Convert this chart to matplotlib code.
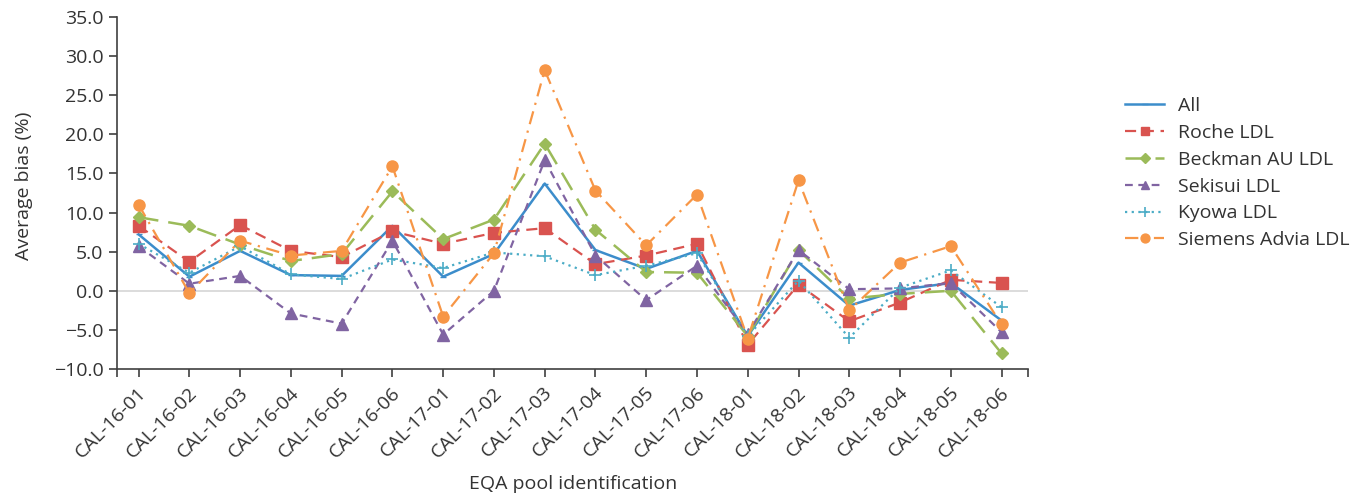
import matplotlib
matplotlib.use("Agg")
import matplotlib.pyplot as plt
from matplotlib.transforms import ScaledTranslation

plt.rcParams['font.family'] = ['Open Sans', 'DejaVu Sans']

categories = ["CAL-16-01", "CAL-16-02", "CAL-16-03", "CAL-16-04", "CAL-16-05", "CAL-16-06",
              "CAL-17-01", "CAL-17-02", "CAL-17-03", "CAL-17-04", "CAL-17-05", "CAL-17-06",
              "CAL-18-01", "CAL-18-02", "CAL-18-03", "CAL-18-04", "CAL-18-05", "CAL-18-06"]

all_vals = [7.2, 1.8, 5.1, 2.0, 1.9, 8.3, 1.8, 4.7, 13.7, 5.2, 2.8, 5.1, -5.8, 3.6, -1.9, 0.1, 1.0, -3.8]
roche = [8.3, 3.7, 8.4, 5.1, 4.3, 7.6, 6.0, 7.4, 8.0, 3.4, 4.5, 6.0, -6.9, 0.8, -3.9, -1.5, 1.4, 1.0]
beckman = [9.4, 8.3, 5.9, 3.8, 4.7, 12.7, 6.6, 9.1, 18.8, 7.8, 2.4, 2.3, -5.8, 5.2, -1.0, -0.4, 0.0, -8.0]
sekisui = [5.7, 0.9, 1.9, -2.9, -4.2, 6.4, -5.6, 0.0, 16.7, 4.5, -1.2, 3.2, -5.5, 5.2, 0.2, 0.3, 1.0, -5.3]
kyowa = [6.0, 2.3, 5.7, 2.1, 1.5, 4.0, 2.9, 4.9, 4.4, 2.0, 3.2, 4.8, -5.8, 1.3, -6.0, 0.4, 2.6, -2.1]
siemens = [11.0, -0.3, 6.4, 4.5, 5.1, 15.9, -3.3, 4.8, 28.2, 12.8, 5.8, 12.3, -6.1, 14.1, -2.5, 3.6, 5.7, -4.3]

yticks = [-10, -5, 0, 5, 10, 15, 20, 25, 30, 35]

fig = plt.figure(figsize=(13.64, 4.96), dpi=100)
ax = fig.add_axes([0.086, 0.256, 0.668, 0.710])

x = list(range(len(categories)))
ax.axhline(0, color="#d9d9d9", lw=1.3, zorder=1)

series = [
    ("All", all_vals, dict(color="#3c8dcb", ls="-", marker="_", ms=5, lw=1.8)),
    ("Roche LDL", roche, dict(color="#d9534f", ls=(0, (5, 3)), marker="s", ms=8, lw=1.6)),
    ("Beckman AU LDL", beckman, dict(color="#9bbb59", ls=(0, (8, 4)), marker="D", ms=6, lw=1.8)),
    ("Sekisui LDL", sekisui, dict(color="#8064a2", ls=(0, (3.5, 2.5)), marker="^", ms=8, lw=1.6)),
    ("Kyowa LDL", kyowa, dict(color="#4bacc6", ls=(0, (1, 2)), marker="+", ms=9, lw=1.6, mew=1.2)),
    ("Siemens Advia LDL", siemens, dict(color="#f79646", ls=(0, (6, 3, 1, 3)), marker="o", ms=8, lw=1.6)),
]
for name, vals, st in series:
    ax.plot(x, vals, label=name, zorder=3, **st)

xlo, xhi = -0.42, 17.53
ax.set_xlim(xlo, xhi)
ax.set_ylim(-10, 35)
ax.set_yticks(yticks)
ax.set_yticklabels([f"{v:.1f}".replace("-", "\u2212") for v in yticks])
ax.set_xticks(x)
ax.set_xticks([xlo, xhi], minor=True)
ax.set_xticklabels(categories, rotation=45, ha="right", va="center", rotation_mode="anchor")

for s in ["top", "right"]:
    ax.spines[s].set_visible(False)
for s in ["left", "bottom"]:
    ax.spines[s].set_color("#404040")
    ax.spines[s].set_linewidth(1.2)
ax.tick_params(axis="both", which="both", direction="out", length=6, width=1.2, color="#404040",
               labelsize=14, labelcolor="#333333")
ax.tick_params(axis="x", pad=9)
ax.tick_params(axis="y", pad=4)

offset = ScaledTranslation(5 / 100, 0, fig.dpi_scale_trans)
for lab in ax.get_xticklabels():
    lab.set_transform(lab.get_transform() + offset)

ax.set_ylabel("Average bias (%)", fontsize=14, color="#333333")
ax.set_xlabel("EQA pool identification", fontsize=14, color="#333333")
ax.yaxis.set_label_coords(-0.092, 0.52)
ax.xaxis.set_label_coords(0.5, -0.30)

leg = ax.legend(loc="upper left", bbox_to_anchor=(1.087, 0.822), frameon=False,
                fontsize=14, labelspacing=0.455, handlelength=2.0, handletextpad=0.72,
                markerscale=0.8)
for t in leg.get_texts():
    t.set_color("#333333")

fig.savefig("out.png", dpi=100)
